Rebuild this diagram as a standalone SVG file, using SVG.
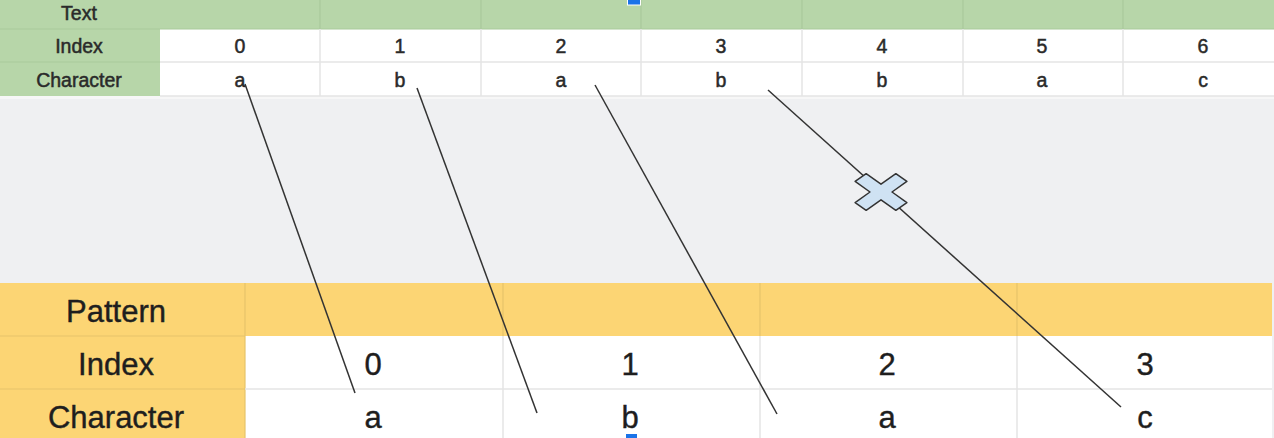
<svg xmlns="http://www.w3.org/2000/svg" width="1274" height="438" viewBox="0 0 1274 438">
<style>
.t{font-family:"Liberation Sans",Arial,sans-serif;font-size:19.5px;fill:#2a2a2a;stroke:#2a2a2a;stroke-width:0.5;text-anchor:middle}
.b{font-family:"Liberation Sans",Arial,sans-serif;font-size:31px;fill:#1e1e1e;stroke:#1e1e1e;stroke-width:0.4;text-anchor:middle}
.gl{stroke:#a9c99c;stroke-width:1.2}
.wl{stroke:#e4e4e4;stroke-width:1.5}
.yl{stroke:#e6c46a;stroke-width:1.2}
.cn{stroke:#333;stroke-width:1.5;fill:none}
</style>
<rect width="1274" height="438" fill="#eff0f2"/>
<g id="text-table">
<rect x="0" y="0" width="1274" height="96" fill="#fff"/>
<rect x="0" y="0" width="1274" height="29" fill="#b7d6a9"/>
<rect x="0" y="0" width="160" height="96" fill="#b7d6a9"/>
<rect x="0" y="96" width="1274" height="3" fill="#f7f7f7"/>
<line class="gl" x1="0" y1="29" x2="1274" y2="29"/>
<line class="gl" x1="0" y1="62" x2="160" y2="62"/>
<line class="wl" x1="160" y1="62" x2="1274" y2="62"/>
<line class="wl" x1="160" y1="96" x2="1274" y2="96"/>
<g class="gl"><line x1="320" y1="0" x2="320" y2="29"/><line x1="481" y1="0" x2="481" y2="29"/><line x1="641" y1="0" x2="641" y2="29"/><line x1="802" y1="0" x2="802" y2="29"/><line x1="963" y1="0" x2="963" y2="29"/><line x1="1123" y1="0" x2="1123" y2="29"/></g>
<g class="wl"><line x1="320" y1="29" x2="320" y2="96"/><line x1="481" y1="29" x2="481" y2="96"/><line x1="641" y1="29" x2="641" y2="96"/><line x1="802" y1="29" x2="802" y2="96"/><line x1="963" y1="29" x2="963" y2="96"/><line x1="1123" y1="29" x2="1123" y2="96"/></g>
<text class="t" x="79" y="20">Text</text>
<text class="t" x="79" y="53">Index</text>
<text class="t" x="79" y="87">Character</text>
<text class="t" x="240" y="53">0</text><text class="t" x="400" y="53">1</text><text class="t" x="561" y="53">2</text><text class="t" x="721" y="53">3</text><text class="t" x="882" y="53">4</text><text class="t" x="1042" y="53">5</text><text class="t" x="1203" y="53">6</text>
<text class="t" x="240" y="87">a</text><text class="t" x="400" y="87">b</text><text class="t" x="561" y="87">a</text><text class="t" x="721" y="87">b</text><text class="t" x="882" y="87">b</text><text class="t" x="1042" y="87">a</text><text class="t" x="1203" y="87">c</text>
</g>
<g id="pattern-table">
<rect x="0" y="283" width="1272" height="155" fill="#fff"/>
<rect x="0" y="283" width="1272" height="53" fill="#fcd574"/>
<rect x="0" y="283" width="245" height="155" fill="#fcd574"/>
<line class="yl" x1="0" y1="336" x2="245" y2="336"/>
<line class="yl" x1="0" y1="389" x2="245" y2="389"/>
<line class="yl" x1="245" y1="283" x2="245" y2="438"/>
<line class="wl" x1="245" y1="389" x2="1272" y2="389"/>
<g class="yl"><line x1="503" y1="283" x2="503" y2="336"/><line x1="760" y1="283" x2="760" y2="336"/><line x1="1017" y1="283" x2="1017" y2="336"/></g>
<g class="wl"><line x1="503" y1="336" x2="503" y2="438"/><line x1="760" y1="336" x2="760" y2="438"/><line x1="1017" y1="336" x2="1017" y2="438"/></g>
<text class="b" x="116" y="322">Pattern</text>
<text class="b" x="116" y="375">Index</text>
<text class="b" x="116" y="428">Character</text>
<text class="b" x="373" y="375">0</text><text class="b" x="630" y="375">1</text><text class="b" x="887" y="375">2</text><text class="b" x="1145" y="375">3</text>
<text class="b" x="373" y="428">a</text><text class="b" x="630" y="428">b</text><text class="b" x="887" y="428">a</text><text class="b" x="1145" y="428">c</text>
</g>
<g id="connectors">
<line class="cn" x1="245" y1="84" x2="355" y2="393"/>
<line class="cn" x1="417" y1="88" x2="537" y2="413"/>
<line class="cn" x1="595" y1="85" x2="777" y2="414"/>
<line class="cn" x1="768" y1="90" x2="1121" y2="407"/>
</g>
<g id="mismatch-mark">
<g transform="translate(881,192) scale(1.2,0.85) rotate(45)">
<polygon points="-6.5,-24 6.5,-24 6.5,-6.5 24,-6.5 24,6.5 6.5,6.5 6.5,24 -6.5,24 -6.5,6.5 -24,6.5 -24,-6.5 -6.5,-6.5" fill="#cfe2f3" stroke="#333" stroke-width="1.5" vector-effect="non-scaling-stroke" stroke-linejoin="round"/>
</g>
</g>
<g id="handles">
<rect x="627.5" y="-1" width="13" height="6" fill="#1a73e8" stroke="#fff" stroke-width="1"/>
<rect x="625.5" y="433.5" width="12" height="6" fill="#1a73e8" stroke="#fff" stroke-width="1"/>
</g>
</svg>
